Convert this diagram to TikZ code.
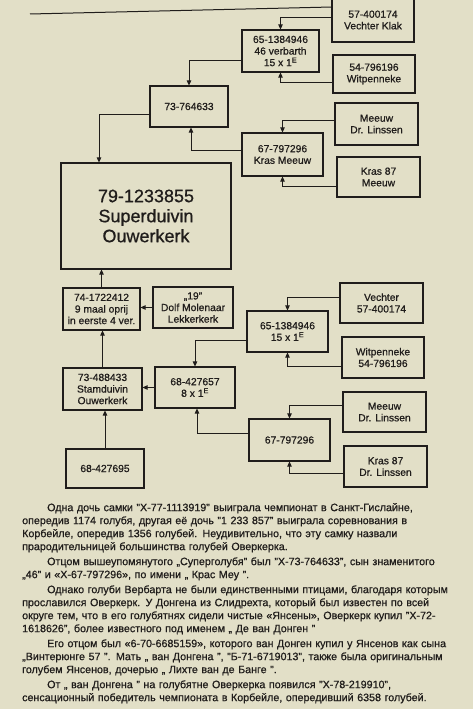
\documentclass[tikz,border=0pt]{standalone}
\usepackage{fontspec}
\setmainfont{Liberation Sans}[RawFeature={embolden=0.7}]
\usetikzlibrary{arrows.meta,calc}
\definecolor{paper}{RGB}{226,223,199}
\definecolor{ink}{RGB}{32,29,27}
\begin{document}
\begin{tikzpicture}[x=1pt,y=-1pt,
  bx/.style n args={2}{draw=ink, line width=1.1pt, align=center, inner sep=0pt,
     text=ink, font=\fontsize{10.3}{11.6}\selectfont,
     minimum width=#1pt, minimum height=#2pt},
  arr/.style={draw=ink, line width=0.8pt, -{Triangle[length=5pt,width=4.5pt]}}]
\useasboundingbox (0,0) rectangle (473,709);
\fill[paper] (0,0) rectangle (473,709);
% top rule
\coordinate (ruleL) at (30,14);
\coordinate (ruleR) at (332,7);
\draw[ink, line width=1pt] (ruleL) -- (ruleR);
% upper pedigree
\node[bx={82}{44}] (A) at (373,20) {57-400174\\Vechter Klak};
\node[bx={77}{42}] (B) at (280.5,51) {65-1384946\\46 verbarth\\15 x 1\textsuperscript{E}};
\node[bx={82}{38}] (C) at (374,74) {54-796196\\Witpenneke};
\node[bx={78}{41}] (D) at (189,106.5) {73-764633};
\node[bx={83}{42}] (E) at (376.5,124) {Meeuw\\Dr. Linssen};
\node[bx={81}{43}] (F) at (282.5,154.5) {67-797296\\Kras Meeuw};
\node[bx={83}{40}] (G) at (378.5,177) {Kras 87\\Meeuw};
\node[bx={170}{106}, font=\fontsize{18}{20}\selectfont] (H) at (146,216) {79-1233855\\Superduivin\\Ouwerkerk};
% lower pedigree
\node[bx={77}{42}] (I) at (101.5,309) {74-1722412\\9 maal oprij\\in eerste 4 ver.};
\node[bx={80}{41}] (J) at (193,307.5) {„19"\\Dolf Molenaar\\Lekkerkerk};
\node[bx={79}{42}] (K) at (102.5,389) {73-488433\\Stamduivin\\Ouwerkerk};
\node[bx={80}{41}] (L) at (195,387.5) {68-427657\\8 x 1\textsuperscript{E}};
\node[bx={78}{39}] (M) at (105,468.5) {68-427695};
\node[bx={81}{41}] (N) at (287.5,331.5) {65-1384946\\15 x 1\textsuperscript{E}};
\node[bx={83}{40}] (O) at (381.5,303) {Vechter\\57-400174};
\node[bx={82}{41}] (P) at (383,357.5) {Witpenneke\\54-796196};
\node[bx={81}{42}] (Q) at (289.5,440) {67-797296};
\node[bx={83}{40}] (R) at (384.5,412) {Meeuw\\Dr. Linssen};
\node[bx={83}{41}] (S) at (385.5,466.5) {Kras 87\\Dr. Linssen};
% connectors
\draw[arr] ([yshift=3pt]A.west) -| (B.north);
\draw[arr] ([yshift=-8pt]C.west) -| (B.south);
\draw[arr] ([yshift=-9pt]B.west) -| (D.north);
\draw[arr] ([yshift=4pt]E.west) -| (F.north);
\draw[arr] ([yshift=-9pt]G.west) -| (F.south);
\draw[arr] ([yshift=4.5pt]F.west) -| ([xshift=2pt]D.south);
\draw[arr] ([yshift=-7.5pt]D.west) -| ([xshift=-47pt]H.north);
\draw[arr] (I.north) -- (I.north |- H.south);
\draw[arr] (J.west) -- (J.west -| I.east);
\draw[arr] (K.north) -- (K.north |- I.south);
\draw[arr] (L.west) -- (L.west -| K.east);
\draw[arr] (M.north) -- (M.north |- K.south);
\draw[arr] ([yshift=-8.5pt]N.west) -| (L.north);
\draw[arr] ([yshift=6pt]O.west) -| (N.north);
\draw[arr] ([yshift=-8.5pt]P.west) -| (N.south);
\draw[arr] ([yshift=7pt]Q.west) -| ([xshift=2pt]L.south);
\draw[arr] ([yshift=7pt]R.west) -| (Q.north);
\draw[arr] ([yshift=-6.5pt]S.west) -| (Q.south);
% text
\node[anchor=north west, inner sep=0pt, text width=442pt, align=left, text=ink,
      font=\fontsize{10.7}{13}\selectfont] (para) at (22,503) {%
\makebox[442pt][s]{\hspace*{25pt}Одна дочь самки "Х-77-1113919" выиграла чемпионат в Санкт-Гислайне,}\\
\makebox[442pt][s]{опередив 1174 голубя, другая её дочь "1 233 857" выиграла соревнования в}\\
\makebox[442pt][s]{Корбейле, опередив 1356 голубей. Неудивительно, что эту самку назвали}\\
прародительницей большинства голубей Оверкерка.\\[2pt]
\makebox[442pt][s]{\hspace*{25pt}Отцом вышеупомянутого „Суперголубя" был "Х-73-764633", сын знаменитого}\\
„46" и «Х-67-797296», по имени „ Крас Меу ".\\[2pt]
\makebox[442pt][s]{\hspace*{25pt}Однако голуби Вербарта не были единственными птицами, благодаря которым}\\
\makebox[442pt][s]{прославился Оверкерк. У Донгена из Слидрехта, который был известен по всей}\\
\makebox[442pt][s]{округе тем, что в его голубятнях сидели чистые «Янсены», Оверкерк купил "Х-72-}\\
1618626", более известного под именем „ Де ван Донген "\\[2pt]
\makebox[442pt][s]{\hspace*{25pt}Его отцом был «6-70-6685159», которого ван Донген купил у Янсенов как сына}\\
\makebox[442pt][s]{„Винтерюнге 57 ". Мать „ ван Донгена ", "Б-71-6719013", также была оригинальным}\\
голубем Янсенов, дочерью „ Лихте ван де Банге ".\\[2pt]
\makebox[442pt][s]{\hspace*{25pt}От „ ван Донгена " на голубятне Оверкерка появился "Х-78-219910",}\\
сенсационный победитель чемпионата в Корбейле, опередивший 6358 голубей.};
\end{tikzpicture}
\end{document}
